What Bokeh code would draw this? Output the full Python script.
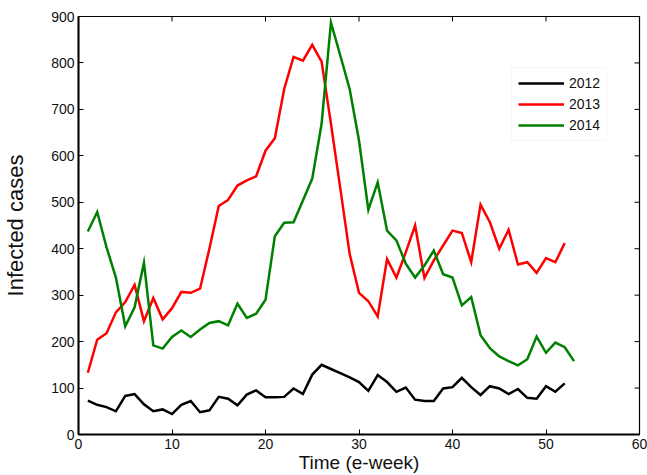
from bokeh.plotting import figure
from bokeh.models import Range1d, FixedTicker, Legend, LegendItem
from bokeh.embed import file_html
from bokeh.resources import INLINE
import math

# ---- data ----
weeks_2012 = list(range(1, 53))
cases_2012 = [73, 64, 59, 50, 83, 87, 65, 50, 54, 44,
              64, 72, 48, 52, 81, 77, 63, 86, 95, 80,
              80, 81, 99, 87, 129, 150, 141, 132, 123, 113,
              94, 128, 113, 92, 101, 75, 72, 72, 99, 102,
              122, 102, 85, 104, 99, 87, 98, 79, 77, 104,
              92, 110]

weeks_2013 = list(range(1, 53))
cases_2013 = [133, 204, 218, 263, 285, 322, 244, 294, 248, 272,
              307, 305, 314, 400, 492, 505, 536, 547, 556, 611,
              638, 744, 813, 805, 839, 803, 669, 530, 389, 305,
              287, 254, 378, 338, 392, 450, 337, 375, 407, 439,
              434, 371, 495, 457, 400, 441, 366, 371, 348, 380,
              371, 412]

weeks_2014 = list(range(1, 54))
cases_2014 = [437, 479, 403, 338, 233, 274, 370, 192, 185, 210,
              224, 210, 226, 240, 244, 235, 282, 251, 260, 290,
              427, 456, 457, 504, 551, 669, 887, 816, 744, 633,
              484, 543, 439, 418, 368, 338, 364, 396, 345, 338,
              278, 296, 214, 186, 168, 158, 149, 162, 211, 176,
              198, 188, 158]

series_names = ["2012", "2013", "2014"]
series_colors = ["#000000", "#ff0000", "#008000"]

x_ticks = [0, 10, 20, 30, 40, 50, 60]
y_ticks = [0, 100, 200, 300, 400, 500, 600, 700, 800, 900]
x_min, x_max = 0, 60
y_min, y_max = 0, 900

FONT = "Liberation Sans"

p = figure(width=647, height=475, output_backend="svg", toolbar_location=None,
           x_range=Range1d(x_min, x_max), y_range=Range1d(y_min, y_max),
           min_border_left=74, min_border_right=8, min_border_top=16, min_border_bottom=41)
p.outline_line_color = "black"
p.outline_line_width = 1.2
p.xgrid.visible = False
p.ygrid.visible = False
p.background_fill_color = "white"
p.border_fill_color = "white"

def style_axis(ax, ticks, standoff):
    ax.ticker = FixedTicker(ticks=ticks)
    ax.axis_line_width = 2
    ax.axis_line_color = "black"
    ax.major_tick_in = 5
    ax.major_tick_out = 0
    ax.major_tick_line_width = 1
    ax.major_tick_line_color = "black"
    ax.minor_tick_in = 0
    ax.minor_tick_out = 0
    ax.major_label_text_font = FONT
    ax.major_label_text_font_size = "14px"
    ax.major_label_text_color = "#111111"
    ax.major_label_standoff = standoff

style_axis(p.xaxis[0], x_ticks, 4)
style_axis(p.yaxis[0], y_ticks, 4)

p.xaxis[0].axis_label = "Time (e-week)"
p.xaxis[0].axis_label_text_font = FONT
p.xaxis[0].axis_label_text_font_size = "19px"
p.xaxis[0].axis_label_text_font_style = "normal"
p.xaxis[0].axis_label_text_color = "#111111"
p.xaxis[0].axis_label_standoff = 0

p.yaxis[0].axis_label = "Infected cases"
p.yaxis[0].axis_label_text_font = FONT
p.yaxis[0].axis_label_text_font_size = "22px"
p.yaxis[0].axis_label_text_font_style = "normal"
p.yaxis[0].axis_label_text_color = "#111111"
p.yaxis[0].axis_label_standoff = 20

# tick marks on the top and right edges of the box (inward half only; glyphs are clipped to the frame)
p.scatter(x=x_ticks, y=[y_max] * len(x_ticks), marker="dash", angle=math.pi / 2,
          size=10, line_color="black", line_width=1)
p.scatter(x=[x_max] * len(y_ticks), y=y_ticks, marker="dash",
          size=10, line_color="black", line_width=1)

xs = [weeks_2012, weeks_2013, weeks_2014]
ys = [cases_2012, cases_2013, cases_2014]
items = []
for name, color, xv, yv in zip(series_names, series_colors, xs, ys):
    r = p.line(xv, yv, line_color=color, line_width=2.5, line_join="miter")
    items.append(LegendItem(label=name, renderers=[r]))

legend = Legend(items=items, location=(433, 293))
legend.label_text_font = FONT
legend.label_text_font_size = "14px"
legend.label_text_color = "#111111"
legend.glyph_width = 46
legend.glyph_height = 18
legend.label_height = 18
legend.label_width = 30
legend.label_standoff = 5
legend.spacing = 3
legend.padding = 6
legend.margin = 0
legend.border_line_color = "#ebebeb"
legend.border_line_width = 1
legend.background_fill_color = "white"
legend.background_fill_alpha = 1
p.add_layout(legend, "center")

open("out.html", "w").write(file_html(p, INLINE))
